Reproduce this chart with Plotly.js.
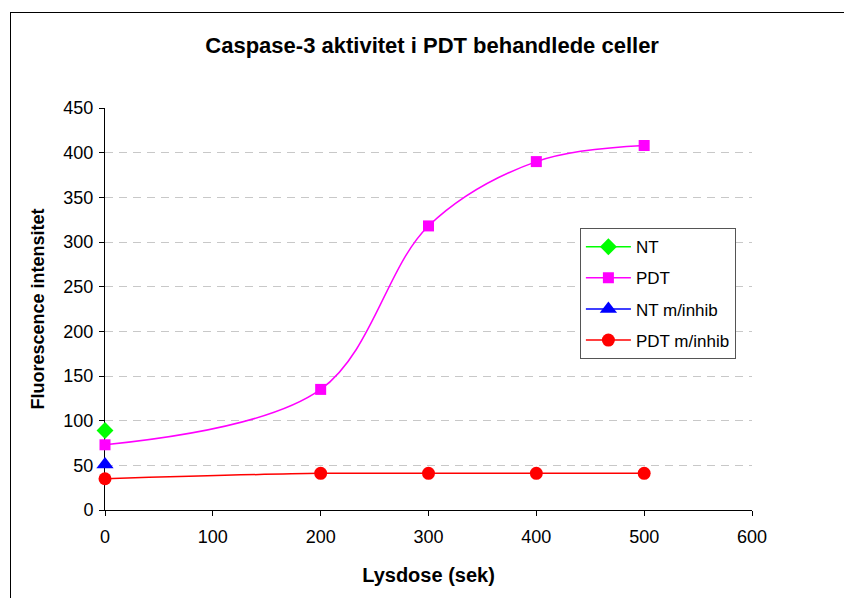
<!DOCTYPE html>
<html>
<head>
<meta charset="utf-8">
<script src="https://cdn.plot.ly/plotly-3.0.1.min.js"></script>
<style>
body{margin:0;padding:0;background:#fff;}
#wrap{position:relative;width:844px;height:598px;overflow:hidden;}
#chart{position:absolute;left:0;top:0;width:844px;height:598px;}
#frame{position:absolute;left:10px;top:12px;width:900px;height:700px;border-left:1.5px solid #000;border-top:1.5px solid #000;pointer-events:none;z-index:5;}
</style>
</head>
<body>
<div id="wrap"><div id="chart"></div><div id="frame"></div></div>
<script>
const ntX = [0];
const ntY = [89];
const pdtX = [0, 200, 300, 400, 500];
const pdtY = [73, 135, 318, 390, 408];
const ntInhX = [0];
const ntInhY = [51];
const pdtInhX = [0, 200, 300, 400, 500];
const pdtInhY = [35, 41, 41, 41, 41];
const seriesNames = ['NT', 'PDT', 'NT m/inhib', 'PDT m/inhib'];
const xTicks = [0, 100, 200, 300, 400, 500, 600];
const yTicks = [0, 50, 100, 150, 200, 250, 300, 350, 400, 450];

const font = 'Liberation Sans, Arial, sans-serif';

const traces = [
  {x: ntX, y: ntY, name: seriesNames[0], legendgroup: 'a', mode: 'lines+markers', cliponaxis: false, line: {color: '#00ff00', width: 1.5, shape: 'spline'}, marker: {symbol: 'diamond', size: 13, color: '#00ff00'}},
  {x: pdtX, y: pdtY, name: seriesNames[1], legendgroup: 'b', mode: 'lines+markers', cliponaxis: false, line: {color: '#ff00ff', width: 1.5, shape: 'spline', smoothing: 1}, marker: {symbol: 'square', size: 11, color: '#ff00ff'}},
  {x: ntInhX, y: ntInhY, name: seriesNames[2], legendgroup: 'c', mode: 'lines+markers', cliponaxis: false, line: {color: '#0000ff', width: 1.5, shape: 'spline'}, marker: {symbol: 'triangle-up', size: 15, color: '#0000ff'}},
  {x: pdtInhX, y: pdtInhY, name: seriesNames[3], legendgroup: 'd', mode: 'lines+markers', cliponaxis: false, line: {color: '#ff0000', width: 1.5, shape: 'spline', smoothing: 1}, marker: {symbol: 'circle', size: 13, color: '#ff0000'}}
];

const layout = {
  width: 844, height: 598,
  margin: {l: 105, r: 92, t: 108, b: 88},
  paper_bgcolor: '#fff', plot_bgcolor: '#fff',
  font: {family: font, size: 17, color: '#000'},
  title: {text: '<b>Caspase-3 aktivitet i PDT behandlede celler</b>', font: {family: font, size: 22, color: '#000'}, x: 0.512, xanchor: 'center', y: 0.925, yanchor: 'middle'},
  xaxis: {
    range: [0, 600], tickvals: xTicks, ticktext: xTicks.map(String),
    showgrid: false, zeroline: false, showline: true, linecolor: '#000', linewidth: 1,
    ticks: 'outside', ticklen: 5, tickcolor: '#000', tickfont: {family: font, size: 18},
    ticklabelstandoff: 5, layer: 'below traces',
    title: {text: '<b>Lysdose (sek)</b>', font: {family: font, size: 20}, standoff: 22},
    fixedrange: true
  },
  yaxis: {
    range: [0, 450], tickvals: yTicks, ticktext: yTicks.map(String),
    showgrid: true, gridcolor: '#c8c8c8', griddash: '8px,6px', gridwidth: 1,
    zeroline: false, showline: true, linecolor: '#000', linewidth: 1,
    ticks: 'outside', ticklen: 5, tickcolor: '#000', tickfont: {family: font, size: 18},
    ticklabelstandoff: 2, layer: 'below traces',
    title: {text: '<b>Fluorescence intensitet</b>', font: {family: font, size: 18}, standoff: 14},
    fixedrange: true
  },
  legend: {
    x: 0.734, y: 0.701, xanchor: 'left', yanchor: 'top',
    bordercolor: '#555', borderwidth: 1, bgcolor: '#fff',
    font: {family: font, size: 17}, traceorder: 'grouped', tracegroupgap: 6,
    itemwidth: 45
  },
  showlegend: true
};

Plotly.newPlot('chart', traces, layout, {displayModeBar: false, staticPlot: true});
</script>
</body>
</html>
